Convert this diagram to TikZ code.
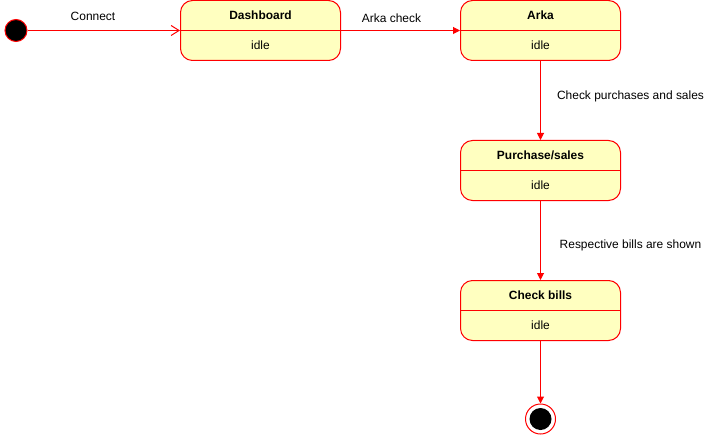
\documentclass[tikz,border=0pt]{standalone}
\usepackage{fontspec}
\setmainfont{Liberation Sans}
\usepackage{xcolor}
\usepackage{tikz}
\usetikzlibrary{arrows.meta, positioning}
\definecolor{umlred}{HTML}{FF0000}
\definecolor{umlfill}{HTML}{FFFFC0}

\begin{document}
\begin{tikzpicture}[
            x=1bp, y=-1bp,                    % pixel units, y down
            line width=1bp,
            on grid,                          % distances between centres
            >={Triangle[length=7bp,width=7bp]}, % arrow tip style
            state/.style={draw=umlred, fill=umlfill, rounded corners=12bp,
                          minimum width=160bp, minimum height=60bp, inner sep=0pt},
            title/.style={font=\fontsize{12}{14}\selectfont\bfseries, inner sep=0pt},
            sub/.style={font=\fontsize{12}{14}\selectfont, inner sep=0pt},
            lbl/.style={font=\fontsize{12}{14}\selectfont, inner sep=0pt},
            edge/.style={draw=umlred, ->}
          ]
          \useasboundingbox (0,0) rectangle (711,436);

          % states
          \node[circle, fill=black, draw=umlred, minimum size=22bp, inner sep=0pt] (start) at (16,30.5) {};
          \node[state] (dash) at (260.5,30.5) {};
          \node[state, right=280bp of dash] (arka) {};
          \node[state, below=140bp of arka] (purch) {};
          \node[state, below=140bp of purch] (bills) {};
          \node[circle, draw=umlred, minimum size=30bp, inner sep=0pt, below=108.5bp of bills] (end) {};
          \node[circle, fill=black, minimum size=22bp, inner sep=0pt] (endin) at (end) {};

          \draw[umlred] (dash.west) -- (dash.east);
          \draw[umlred] (arka.west) -- (arka.east);
          \draw[umlred] (purch.west) -- (purch.east);
          \draw[umlred] (bills.west) -- (bills.east);

          \node[title] (tdash) at ([yshift=-15.5bp]dash.north) {Dashboard};
          \node[sub] (sdash) at ([yshift=15.5bp]dash.south) {idle};
          \node[title] (tarka) at ([yshift=-15.5bp]arka.north) {Arka};
          \node[sub] (sarka) at ([yshift=15.5bp]arka.south) {idle};
          \node[title] (tpurch) at ([yshift=-15.5bp]purch.north) {Purchase/sales};
          \node[sub] (spurch) at ([yshift=15.5bp]purch.south) {idle};
          \node[title] (tbills) at ([yshift=-15.5bp]bills.north) {Check bills};
          \node[sub] (sbills) at ([yshift=15.5bp]bills.south) {idle};

          % transitions
          \draw[umlred, -{Straight Barb[length=8bp,width=10bp]}] (start) -- (dash);
          \draw[edge] (dash) -- (arka);
          \draw[edge] (arka) -- (purch);
          \draw[edge] (purch) -- (bills);
          \draw[edge] (bills) -- (end);

          \node[lbl] (lconnect) at (93,16) {Connect};
          \node[lbl] (larka) at (391.5,18) {Arka check};
          \node[lbl] (lcheck) at (630.5,96) {Check purchases and sales};
          \node[lbl] (lbills) at (630.5,245) {Respective bills are shown};
        \end{tikzpicture}
\end{document}
